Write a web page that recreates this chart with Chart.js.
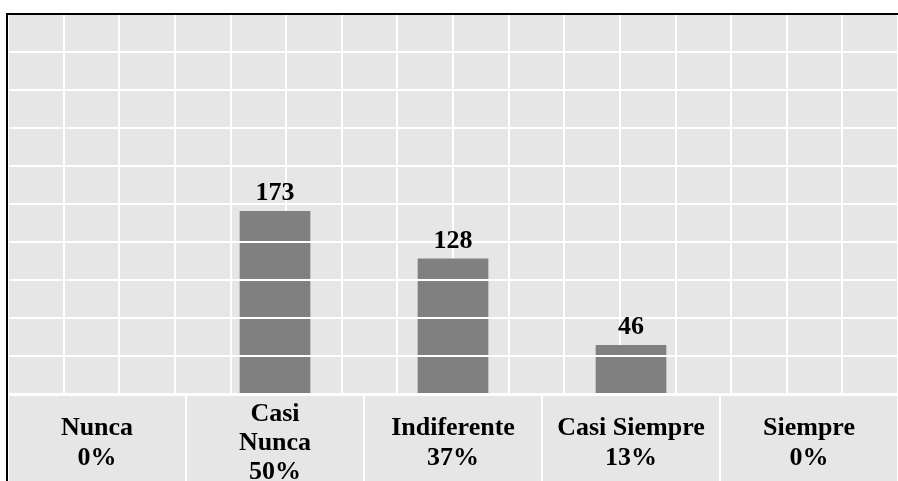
<!DOCTYPE html>
<html>
<head>
<meta charset="utf-8">
<script src="https://cdn.jsdelivr.net/npm/chart.js@4/dist/chart.umd.min.js"></script>
<style>
  html, body { margin: 0; padding: 0; background: #fff; overflow: hidden; }
  #wrap { width: 898px; height: 481px; position: relative; }
</style>
</head>
<body>
<div id="wrap"><canvas id="c" width="898" height="481"></canvas></div>
<script>
// Response categories and their counts
const categories = ['Nunca', 'Casi Nunca', 'Indiferente', 'Casi Siempre', 'Siempre'];
const counts = [0, 173, 128, 46, 0];
// How each category name is broken over lines under the axis
const labelLines = [['Nunca'], ['Casi', 'Nunca'], ['Indiferente'], ['Casi Siempre'], ['Siempre']];
// Value axis range and grid spacing
const yMax = 360;
const yStep = 36;
const gridColumns = 15;

const total = counts.reduce((a, b) => a + b, 0);
const tickLabels = labelLines.map((lines, i) =>
  [...lines, Math.round(counts[i] / total * 100) + '%']);

const FONT = "'Liberation Serif', 'Times New Roman', serif";

// Grey panel behind the plot plus the black frame on top and left
const frame = {
  id: 'frame',
  beforeDraw(chart) {
    const { ctx, width, height, chartArea } = chart;
    ctx.save();
    ctx.fillStyle = '#ffffff';
    ctx.fillRect(0, 0, width, height);
    ctx.fillStyle = '#e6e6e6';
    ctx.fillRect(chartArea.left, chartArea.top, width - chartArea.left, height - chartArea.top);
    ctx.restore();
  },
  afterDraw(chart) {
    const { ctx, width, height, chartArea } = chart;
    ctx.save();
    ctx.fillStyle = '#000';
    ctx.fillRect(chartArea.left - 2, chartArea.top - 1, width - chartArea.left + 2, 2);
    ctx.fillRect(chartArea.left - 2, chartArea.top - 1, 2, height - chartArea.top + 1);
    ctx.restore();
  }
};

// Count printed above each non-empty bar
const valueLabels = {
  id: 'valueLabels',
  afterDraw(chart) {
    const ctx = chart.ctx;
    const meta = chart.getDatasetMeta(0);
    ctx.save();
    ctx.font = 'bold 26px ' + FONT;
    ctx.fillStyle = '#000';
    ctx.textAlign = 'center';
    ctx.textBaseline = 'alphabetic';
    meta.data.forEach((bar, i) => {
      if (!counts[i]) return;
      ctx.fillText(String(counts[i]), bar.x, bar.y - 11);
    });
    ctx.restore();
  }
};

new Chart(document.getElementById('c'), {
  type: 'bar',
  data: {
    labels: tickLabels,
    datasets: [{
      data: counts,
      backgroundColor: '#808080',
      borderWidth: 0,
      barThickness: 70,
      xAxisID: 'x',
      yAxisID: 'y'
    }]
  },
  options: {
    responsive: false,
    animation: false,
    layout: { padding: { left: 8, top: 14, right: 0, bottom: 0 } },
    plugins: {
      legend: { display: false },
      tooltip: { enabled: false }
    },
    scales: {
      x: {
        type: 'category',
        position: 'bottom',
        offset: true,
        grid: {
          offset: true,
          drawOnChartArea: false,
          drawTicks: true,
          tickLength: 95,
          color: '#ffffff',
          lineWidth: 2
        },
        border: { display: true, color: '#ffffff', width: 3 },
        ticks: {
          font: { family: FONT, size: 26, weight: 'bold', lineHeight: 1.13 },
          color: '#000',
          padding: -75,
          maxRotation: 0,
          minRotation: 0,
          autoSkip: false,
          crossAlign: 'center'
        },
        afterFit(s) { s.height = 87; }
      },
      xg: {
        type: 'linear',
        position: 'bottom',
        min: 0,
        max: gridColumns,
        ticks: { display: false, stepSize: 1 },
        grid: { color: '#ffffff', lineWidth: 2, drawTicks: false },
        border: { display: false },
        afterFit(s) { s.height = 0; }
      },
      y: {
        min: 0,
        max: yMax,
        ticks: { display: false, stepSize: yStep },
        grid: { color: '#ffffff', lineWidth: 2, drawTicks: false, z: 1 },
        border: { display: false },
        afterFit(s) { s.width = 0; }
      }
    }
  },
  plugins: [frame, valueLabels]
});
</script>
</body>
</html>
